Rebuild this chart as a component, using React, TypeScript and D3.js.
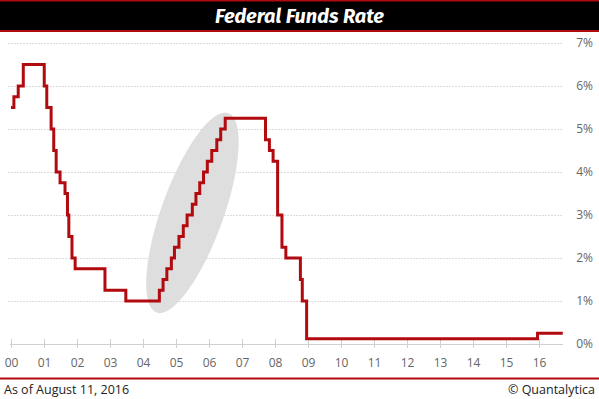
import React, { useEffect, useRef } from "react";
import * as d3 from "d3";

// fed funds target changes (date of change, new level %)
const rateDates = [
  "2000-01-01", "2000-02-02", "2000-03-21", "2000-05-16",
  "2001-01-03", "2001-01-31", "2001-03-20", "2001-04-18", "2001-05-15", "2001-06-27",
  "2001-08-21", "2001-09-17", "2001-10-02", "2001-11-06", "2001-12-11",
  "2002-11-06", "2003-06-25",
  "2004-06-30", "2004-08-10", "2004-09-21", "2004-11-10", "2004-12-14",
  "2005-02-02", "2005-03-22", "2005-05-03", "2005-06-30", "2005-08-09", "2005-09-20",
  "2005-11-01", "2005-12-13", "2006-01-31", "2006-03-28", "2006-05-10", "2006-06-29",
  "2007-09-18", "2007-10-31", "2007-12-11", "2008-01-30", "2008-03-18", "2008-04-30",
  "2008-10-08", "2008-10-29", "2008-12-16", "2015-12-16", "2016-09-20",
];
const rateValues = [
  5.5, 5.75, 6.0, 6.5,
  6.0, 5.5, 5.0, 4.5, 4.0, 3.75,
  3.5, 3.0, 2.5, 2.0, 1.75,
  1.25, 1.0,
  1.25, 1.5, 1.75, 2.0, 2.25,
  2.5, 2.75, 3.0, 3.25, 3.5, 3.75,
  4.0, 4.25, 4.5, 4.75, 5.0, 5.25,
  4.75, 4.5, 4.25, 3.0, 2.25, 2.0,
  1.5, 1.0, 0.125, 0.25, 0.25,
];
const yearTicks = ["00", "01", "02", "03", "04", "05", "06", "07", "08", "09", "10", "11", "12", "13", "14", "15", "16"];
const pctTicks = [0, 1, 2, 3, 4, 5, 6, 7];
// highlighted hiking cycle
const highlightCenter = { date: "2005-07-01", rate: 3.05 };

const RED = "#b10a0f";
const FONT = "'Open Sans', 'Noto Sans', sans-serif";

const App: React.FC = () => {
  const svgRef = useRef<SVGSVGElement | null>(null);

  useEffect(() => {
    if (!svgRef.current) return;
    const svg = d3.select(svgRef.current);
    svg.selectAll("*").remove();

    const width = 599;
    const height = 399;
    const parse = d3.timeParse("%Y-%m-%d");

    const x = d3
      .scaleTime()
      .domain([parse("2000-01-01") as Date, parse("2016-01-01") as Date])
      .range([11, 539]);
    const y = d3.scaleLinear().domain([0, 7]).range([344, 43]);
    const gridLeft = 8;
    const gridRight = 563;

    svg.append("rect").attr("width", width).attr("height", height).attr("fill", "#fff");

    // title band
    svg.append("rect").attr("x", 0).attr("y", 0).attr("width", width).attr("height", 32).attr("fill", RED);
    svg.append("rect").attr("x", 0).attr("y", 1.5).attr("width", width).attr("height", 28.5).attr("fill", "#000");
    svg
      .append("text")
      .attr("x", width / 2)
      .attr("y", 23)
      .attr("text-anchor", "middle")
      .style("font-family", "'Fira Sans', Lato, sans-serif")
      .style("font-size", "20px")
      .style("font-weight", "700")
      .style("font-style", "italic")
      .style("fill", "#fff")
      .text("Federal Funds Rate");

    // grid
    svg
      .append("g")
      .selectAll("line")
      .data(pctTicks.filter(d => d > 0))
      .join("line")
      .attr("x1", gridLeft)
      .attr("x2", gridRight)
      .attr("y1", d => y(d) + 0.5)
      .attr("y2", d => y(d) + 0.5)
      .attr("stroke", "#dcdcdc")
      .attr("stroke-width", 1)
      .attr("stroke-dasharray", "2,1");

    svg
      .append("g")
      .selectAll("text")
      .data(pctTicks)
      .join("text")
      .attr("x", 593)
      .attr("y", d => y(d))
      .attr("dy", "0.35em")
      .attr("text-anchor", "end")
      .style("font-family", FONT)
      .style("font-size", "12px")
      .style("fill", "#666")
      .text(d => `${d}%`);

    // x axis
    svg
      .append("line")
      .attr("x1", 10)
      .attr("x2", gridRight)
      .attr("y1", y(0) + 0.5)
      .attr("y2", y(0) + 0.5)
      .attr("stroke", "#d0d0d0");

    const tickG = svg
      .append("g")
      .selectAll("g")
      .data(yearTicks)
      .join("g")
      .attr("transform", d => `translate(${Math.round(x(parse(`20${d}-01-01`) as Date)) + 0.5},0)`);
    tickG
      .append("line")
      .attr("y1", y(0) - 5)
      .attr("y2", y(0) + 4)
      .attr("stroke", "#d0d0d0");
    tickG
      .append("text")
      .attr("y", 363)
      .attr("dy", "0.35em")
      .attr("text-anchor", "middle")
      .style("font-family", FONT)
      .style("font-size", "12px")
      .style("fill", "#666")
      .text(d => d);

    // highlight ellipse
    const cx = x(parse(highlightCenter.date) as Date);
    const cy = y(highlightCenter.rate);
    svg
      .append("ellipse")
      .attr("cx", 0)
      .attr("cy", 0)
      .attr("rx", 31)
      .attr("ry", 106)
      .attr("transform", `translate(${cx},${cy}) rotate(19.8)`)
      .attr("fill", "#dedede");

    // rate line
    const data = rateDates.map((d, i) => ({ date: parse(d) as Date, value: rateValues[i] }));
    const line = d3
      .line<{ date: Date; value: number }>()
      .x(d => x(d.date))
      .y(d => y(d.value))
      .curve(d3.curveStepAfter);
    svg
      .append("path")
      .datum(data)
      .attr("d", line)
      .attr("fill", "none")
      .attr("stroke", RED)
      .attr("stroke-width", 3)
      .attr("stroke-linejoin", "miter");

    // footer
    svg.append("rect").attr("x", 0).attr("y", 377.5).attr("width", width).attr("height", 2).attr("fill", RED);
    svg
      .append("text")
      .attr("x", 4)
      .attr("y", 394)
      .style("font-family", FONT)
      .style("font-size", "12.5px")
      .style("fill", "#222")
      .text("As of August 11, 2016");
    svg
      .append("text")
      .attr("x", 595)
      .attr("y", 394)
      .attr("text-anchor", "end")
      .style("font-family", FONT)
      .style("font-size", "12.5px")
      .style("fill", "#222")
      .text("© Quantalytica");
  }, []);

  return (
    <svg
      ref={svgRef}
      width={599}
      height={399}
      style={{ position: "absolute", left: 0, top: 0, display: "block" }}
    />
  );
};

export default App;
